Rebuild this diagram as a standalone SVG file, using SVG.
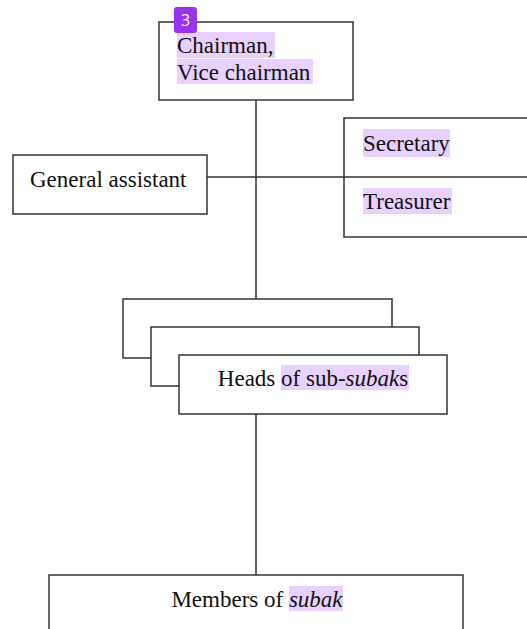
<svg xmlns="http://www.w3.org/2000/svg" width="527" height="629" viewBox="0 0 527 629">
<style>
.box{fill:#fff;stroke:#333;stroke-width:1.5}
.ln{stroke:#333;stroke-width:1.5;fill:none}
.t{font-family:"Liberation Serif","Times New Roman",serif;font-size:23px;fill:#111}
.hl{fill:#e8d0ff}
</style>
<rect width="527" height="629" fill="#fff"/>
<g id="connectors">
<line class="ln" x1="256" y1="100" x2="256" y2="299"/>
<line class="ln" x1="207" y1="177" x2="527" y2="177"/>
<line class="ln" x1="256" y1="414" x2="256" y2="575"/>
</g>
<g id="chairman">
<rect class="box" x="159" y="22" width="194" height="78"/>
<rect class="hl" x="177" y="32" width="98" height="26"/>
<rect class="hl" x="177" y="59" width="136" height="25"/>
<text class="t" x="177" y="53">Chairman,</text>
<text class="t" x="177" y="80">Vice chairman</text>
</g>
<g id="secretary-treasurer">
<rect class="box" x="344" y="118" width="200" height="119"/>
<line class="ln" x1="344" y1="177" x2="527" y2="177"/>
<rect class="hl" x="363" y="129" width="87" height="28"/>
<text class="t" x="363" y="151">Secretary</text>
<rect class="hl" x="363" y="188" width="89" height="26"/>
<text class="t" x="363" y="209">Treasurer</text>
</g>
<g id="general-assistant">
<rect class="box" x="13" y="155" width="194" height="59"/>
<text class="t" x="30" y="187">General assistant</text>
</g>
<g id="heads">
<rect class="box" x="123" y="299" width="269" height="59"/>
<rect class="box" x="151" y="327" width="268" height="59"/>
<rect class="box" x="179" y="355" width="268" height="59"/>
<rect class="hl" x="281" y="365" width="128" height="25"/>
<text class="t" x="313" y="386" text-anchor="middle">Heads of sub-<tspan font-style="italic">subak</tspan>s</text>
</g>
<g id="members">
<rect class="box" x="49" y="575" width="414" height="70"/>
<rect class="hl" x="289" y="586" width="54" height="25"/>
<text class="t" x="257" y="607" text-anchor="middle">Members of <tspan font-style="italic">subak</tspan></text>
</g>
<g id="badge">
<rect x="174" y="7" width="23" height="26" rx="3" fill="#9933ee"/>
<text x="185.5" y="26" text-anchor="middle" font-family="'Open Sans','DejaVu Sans',sans-serif" font-size="16" fill="#fff">3</text>
</g>
</svg>
